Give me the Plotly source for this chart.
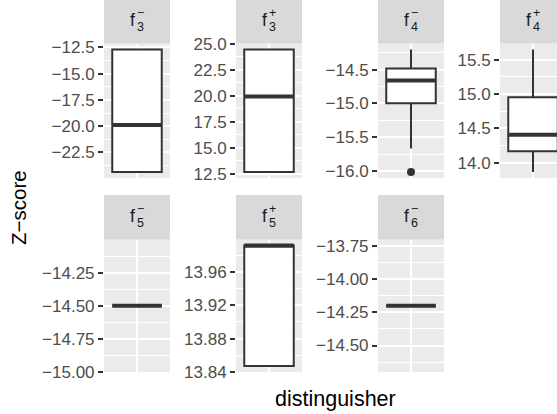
import plotly.graph_objects as go

# ---------------- data ----------------
facet_base = ["f", "f", "f", "f", "f", "f", "f"]
facet_sub = ["3", "3", "4", "4", "5", "5", "6"]
facet_sup = ["\u2212", "+", "\u2212", "+", "\u2212", "+", "\u2212"]

lower_whisker = [-24.35, 12.66, -15.665, 13.87, -14.50, 13.847, -14.20]
q1_values = [-24.35, 12.66, -14.997, 14.168, -14.50, 13.847, -14.20]
median_values = [-19.88, 19.90, -14.66, 14.41, -14.50, 13.992, -14.20]
q3_values = [-12.72, 24.42, -14.485, 14.952, -14.50, 13.992, -14.20]
upper_whisker = [-12.72, 24.42, -14.205, 15.645, -14.50, 13.992, -14.20]
outliers = [[], [], [-16.01], [], [], [], []]

y_ticks = [
    [-22.5, -20.0, -17.5, -15.0, -12.5],
    [12.5, 15.0, 17.5, 20.0, 22.5, 25.0],
    [-16.0, -15.5, -15.0, -14.5],
    [14.0, 14.5, 15.0, 15.5],
    [-15.00, -14.75, -14.50, -14.25],
    [13.84, 13.88, 13.92, 13.96],
    [-14.50, -14.25, -14.00, -13.75],
]
y_decimals = [1, 1, 1, 1, 2, 2, 2]

x_title = "distinguisher"
y_title = "Z\u2212score"

# ---------------- layout geometry (pixels) ----------------
W, H = 557, 414
col_px = [(104, 170), (236, 302), (378, 444), (500, 557)]
nominal_panel_w = 66.0
row_panel_px = [(43.5, 178), (239.5, 372)]
row_strip_px = [(-1, 43.5), (195, 239.5)]

def px(x):
    return x / W

def py(y):
    return 1 - y / H

def fmt(v, d):
    s = f"{abs(v):.{d}f}"
    return ("\u2212" + s) if v < 0 else s

BOX_COL = "#333333"
GRID = "white"
FONT = "Liberation Sans, Arial, sans-serif"

fig = go.Figure()
shapes = []
annotations = []

for i in range(len(facet_sub)):
    r, c = divmod(i, 4)
    n = "" if i == 0 else str(i + 1)
    xa, ya = "x" + n, "y" + n
    left, right = col_px[c]
    ptop, pbot = row_panel_px[r]
    stop, sbot = row_strip_px[r]

    # data range like ggplot (5% expansion, +-0.5 if zero width)
    vals = [lower_whisker[i], upper_whisker[i]] + outliers[i]
    lo, hi = min(vals), max(vals)
    span = hi - lo
    if span == 0:
        yr = [lo - 0.5, hi + 0.5]
    else:
        yr = [lo - 0.05 * span, hi + 0.05 * span]

    xr = [0.4, 0.4 + 1.2 * (right - left) / nominal_panel_w]

    ticks = y_ticks[i]
    step = ticks[1] - ticks[0]
    minor = [ticks[0] - step / 2] + [(a + b) / 2 for a, b in zip(ticks[:-1], ticks[1:])] + [ticks[-1] + step / 2]

    fig.add_trace(go.Box(
        x=[1], q1=[q1_values[i]], median=[median_values[i]], q3=[q3_values[i]],
        lowerfence=[lower_whisker[i]], upperfence=[upper_whisker[i]],
        width=0.9, whiskerwidth=0, fillcolor="white",
        line=dict(color=BOX_COL, width=2), boxpoints=False,
        xaxis=xa, yaxis=ya, showlegend=False, hoverinfo="skip",
    ))
    fig.add_trace(go.Scatter(
        x=[1 - 0.45, 1 + 0.45], y=[median_values[i]] * 2, mode="lines",
        line=dict(color=BOX_COL, width=4), xaxis=xa, yaxis=ya,
        showlegend=False, hoverinfo="skip",
    ))
    if outliers[i]:
        fig.add_trace(go.Scatter(
            x=[1] * len(outliers[i]), y=outliers[i], mode="markers",
            marker=dict(color=BOX_COL, size=8), xaxis=xa, yaxis=ya,
            showlegend=False, hoverinfo="skip",
        ))

    fig.layout["xaxis" + n] = dict(
        domain=[px(left), px(right)], anchor=ya, range=xr, automargin=False,
        tickmode="array", tickvals=[1], showticklabels=False, ticks="",
        showgrid=True, gridcolor=GRID, gridwidth=2, zeroline=False,
        showline=False, fixedrange=True,
    )
    fig.layout["yaxis" + n] = dict(
        domain=[py(pbot), py(ptop)], anchor=xa, range=yr, automargin=False,
        tickmode="array", tickvals=ticks,
        ticktext=[fmt(v, y_decimals[i]) for v in ticks],
        ticks="outside", ticklen=5, tickwidth=2, tickcolor=BOX_COL,
        tickfont=dict(family=FONT, size=17, color="#4D4D4D"),
        showgrid=True, gridcolor=GRID, gridwidth=2, zeroline=False,
        showline=False, fixedrange=True,
        minor=dict(tickvals=minor, showgrid=True, gridcolor=GRID, gridwidth=1, ticks=""),
    )

    # strip
    shapes.append(dict(type="rect", xref="paper", yref="paper",
                       x0=px(left), x1=px(right), y0=py(sbot), y1=py(max(stop, 0)),
                       fillcolor="#D9D9D9", line=dict(width=0), layer="below"))
    cx = (left + left + nominal_panel_w) / 2
    cy = (stop + sbot) / 2
    annotations.append(dict(text=facet_base[i], x=px(cx - 4.5), y=py(cy - 1), xref="paper", yref="paper",
                            showarrow=False, xanchor="center", yanchor="middle",
                            font=dict(family=FONT, size=17.5, color="#1A1A1A")))
    annotations.append(dict(text=facet_sub[i], x=px(cx + 3), y=py(cy + 6), xref="paper", yref="paper",
                            showarrow=False, xanchor="center", yanchor="middle",
                            font=dict(family=FONT, size=12.5, color="#1A1A1A")))
    annotations.append(dict(text=facet_sup[i], x=px(cx + 3), y=py(cy - 8.5), xref="paper", yref="paper",
                            showarrow=False, xanchor="center", yanchor="middle",
                            font=dict(family=FONT, size=12.5, color="#1A1A1A")))

annotations.append(dict(text=x_title, x=px(335), y=py(399), xref="paper", yref="paper",
                        showarrow=False, xanchor="center", yanchor="middle",
                        font=dict(family=FONT, size=21.5, color="black")))
annotations.append(dict(text=y_title, x=px(18.5), y=py(207.5), xref="paper", yref="paper",
                        showarrow=False, xanchor="center", yanchor="middle", textangle=-90,
                        font=dict(family=FONT, size=20.5, color="black")))

fig.update_layout(
    width=W, height=H, autosize=False,
    margin=dict(l=0, r=0, t=0, b=0, pad=0, autoexpand=False),
    paper_bgcolor="white", plot_bgcolor="#EBEBEB",
    shapes=shapes, annotations=annotations, showlegend=False,
)

fig.write_html(
    "out.html",
    config={"displayModeBar": False},
    post_script="document.body.style.margin='0';document.body.style.overflow='hidden';",
)
